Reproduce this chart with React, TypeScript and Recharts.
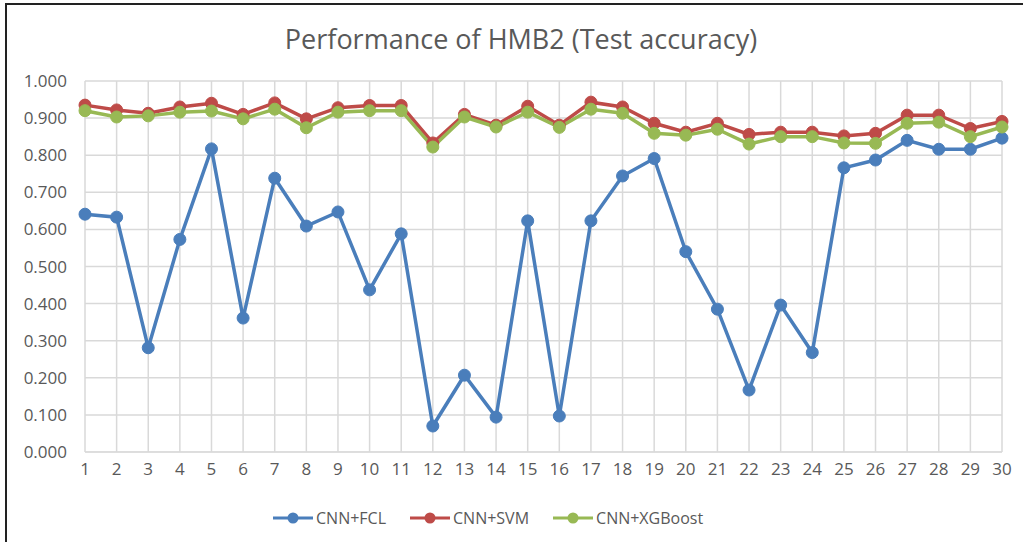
import React from 'react';
import { LineChart, Line, XAxis, YAxis, CartesianGrid } from 'recharts';

const runs = ['1','2','3','4','5','6','7','8','9','10','11','12','13','14','15','16','17','18','19','20','21','22','23','24','25','26','27','28','29','30'];

const cnnFcl = [0.641, 0.633, 0.281, 0.573, 0.817, 0.361, 0.738, 0.609, 0.647, 0.437, 0.588, 0.070, 0.207, 0.094, 0.623,
  0.097, 0.623, 0.744, 0.791, 0.540, 0.385, 0.167, 0.396, 0.268, 0.766, 0.787, 0.840, 0.816, 0.816, 0.846];
const cnnSvm = [0.935, 0.922, 0.913, 0.930, 0.940, 0.910, 0.941, 0.898, 0.928, 0.934, 0.934, 0.833, 0.910, 0.881, 0.932,
  0.881, 0.943, 0.930, 0.886, 0.862, 0.886, 0.856, 0.862, 0.862, 0.852, 0.859, 0.908, 0.908, 0.872, 0.891];
const cnnXgb = [0.920, 0.903, 0.906, 0.916, 0.919, 0.898, 0.924, 0.874, 0.916, 0.920, 0.920, 0.822, 0.903, 0.876, 0.916,
  0.875, 0.924, 0.913, 0.859, 0.854, 0.870, 0.830, 0.850, 0.850, 0.833, 0.832, 0.886, 0.889, 0.850, 0.876];

const yTicks = [0, 0.1, 0.2, 0.3, 0.4, 0.5, 0.6, 0.7, 0.8, 0.9, 1.0];

const series = [
  { key: 'fcl', name: 'CNN+FCL', color: '#4a7ebb' },
  { key: 'svm', name: 'CNN+SVM', color: '#be4b48' },
  { key: 'xgb', name: 'CNN+XGBoost', color: '#98b954' },
];

const data = runs.map((r, i) => ({ run: r, fcl: cnnFcl[i], svm: cnnSvm[i], xgb: cnnXgb[i] }));

const font = 'Open Sans, sans-serif';
const textColor = '#595959';

const LegendRow = () => (
  <div style={{ position: 'absolute', top: 507, left: 273, display: 'flex', fontFamily: font, fontSize: 16, color: textColor }}>
    {series.map(s => (
      <div key={s.key} style={{ display: 'flex', alignItems: 'center', marginRight: 24 }}>
        <svg width={40} height={20}>
          <line x1={0} y1={10} x2={40} y2={10} stroke={s.color} strokeWidth={3} />
          <circle cx={20} cy={10} r={5.5} fill={s.color} />
        </svg>
        <span style={{ marginLeft: 3 }}>{s.name}</span>
      </div>
    ))}
  </div>
);

const App: React.FC = () => {
  return (
    <div style={{ position: 'absolute', left: 0, top: 0, width: 1023, height: 542, background: '#fff', overflow: 'hidden' }}>
      <div style={{ position: 'absolute', left: 5, top: 3, width: 1030, height: 560, borderLeft: '2px solid #222', borderTop: '2px solid #222' }} />
      <div style={{ position: 'absolute', top: 20, left: 0, width: 1042, textAlign: 'center', fontFamily: font, fontSize: 27, color: textColor }}>
        Performance of HMB2 (Test accuracy)
      </div>
      <LineChart width={1023} height={542} data={data} margin={{ top: 81, right: 21, left: 25, bottom: 60 }}>
        <CartesianGrid stroke="#d9d9d9" strokeWidth={1.5} vertical={true} />
        <XAxis
          dataKey="run"
          axisLine={{ stroke: '#d9d9d9' }}
          tickLine={false}
          tick={{ fill: textColor, fontSize: 17, fontFamily: font }}
          interval={0}
          tickMargin={5}
        />
        <YAxis
          width={60}
          domain={[0, 1]}
          ticks={yTicks}
          tickFormatter={(v: number) => v.toFixed(3)}
          axisLine={false}
          tickLine={false}
          tick={{ fill: textColor, fontSize: 17, fontFamily: font }}
          tickMargin={12}
        />
        {series.map(s => (
          <Line
            key={s.key}
            type="linear"
            dataKey={s.key}
            name={s.name}
            stroke={s.color}
            strokeWidth={3.5}
            dot={{ r: 6, fill: s.color, stroke: s.color, strokeWidth: 1 }}
            isAnimationActive={false}
          />
        ))}
      </LineChart>
      <LegendRow />
    </div>
  );
};

export default App;
